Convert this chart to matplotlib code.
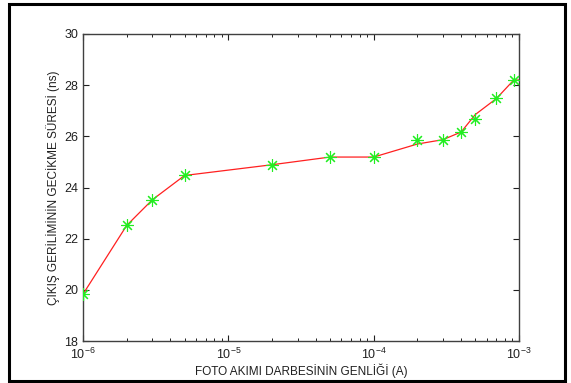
import matplotlib
matplotlib.use("Agg")
import matplotlib.pyplot as plt
from matplotlib.patches import Rectangle

plt.rcParams['font.family'] = ['Liberation Sans', 'DejaVu Sans']
plt.rcParams['mathtext.default'] = 'regular'
plt.rcParams['axes.unicode_minus'] = False

# marker data
akim = [1e-6, 2e-6, 3e-6, 5e-6, 2e-5, 5e-5, 1e-4, 2e-4, 3e-4, 4e-4, 5e-4, 7e-4, 9.2e-4]
gecikme = [19.83, 22.52, 23.52, 24.47, 24.89, 25.19, 25.19, 25.87, 25.87, 26.17, 26.69, 27.48, 28.2]
# connecting line data
cizgi_x = [1e-6, 2e-6, 3e-6, 5e-6, 2e-5, 5e-5, 1e-4, 2e-4, 3e-4, 4e-4, 5e-4, 7e-4, 9.2e-4, 1e-3]
cizgi_y = [19.83, 22.52, 23.52, 24.47, 24.89, 25.19, 25.19, 25.7, 25.87, 26.17, 26.85, 27.48, 28.2, 28.2]

yticks = [18, 20, 22, 24, 26, 28, 30]

fig = plt.figure(figsize=(5.71, 3.83), dpi=100)
fig.patches.append(Rectangle((9/571, 2/383), 556/571, 377/383, transform=fig.transFigure,
                             fill=False, edgecolor='black', linewidth=2.2))
ax = fig.add_axes([83/571, 42/383, 436/571, 307/383])

ax.plot(cizgi_x, cizgi_y, color='#ff2020', linewidth=0.9, zorder=2)
ax.plot(akim, gecikme, linestyle='none', marker=(8, 2, 0), markersize=9,
        color='#22ee22', markeredgewidth=0.8, zorder=3)

ax.set_xscale('log')
ax.set_xlim(1e-6, 1e-3)
ax.set_ylim(18, 30)
ax.set_yticks(yticks)

for s in ax.spines.values():
    s.set_color('#404040')
    s.set_linewidth(1.0)

ax.tick_params(which='both', direction='in', top=True, right=True, colors='#202020',
               labelsize=9)
ax.tick_params(which='major', length=4, width=0.8)
ax.tick_params(which='minor', length=2.5, width=0.7)
ax.tick_params(axis='x', pad=4)

ax.set_xlabel('FOTO AKIMI DARBESİNİN GENLİĞİ (A)', fontsize=8.5, color='#202020', labelpad=1)
ax.set_ylabel('ÇIKIŞ GERİLİMİNİN GECİKME SÜRESİ (ns)', fontsize=8.5, color='#202020', labelpad=3)

fig.savefig('out.png', dpi=100)
